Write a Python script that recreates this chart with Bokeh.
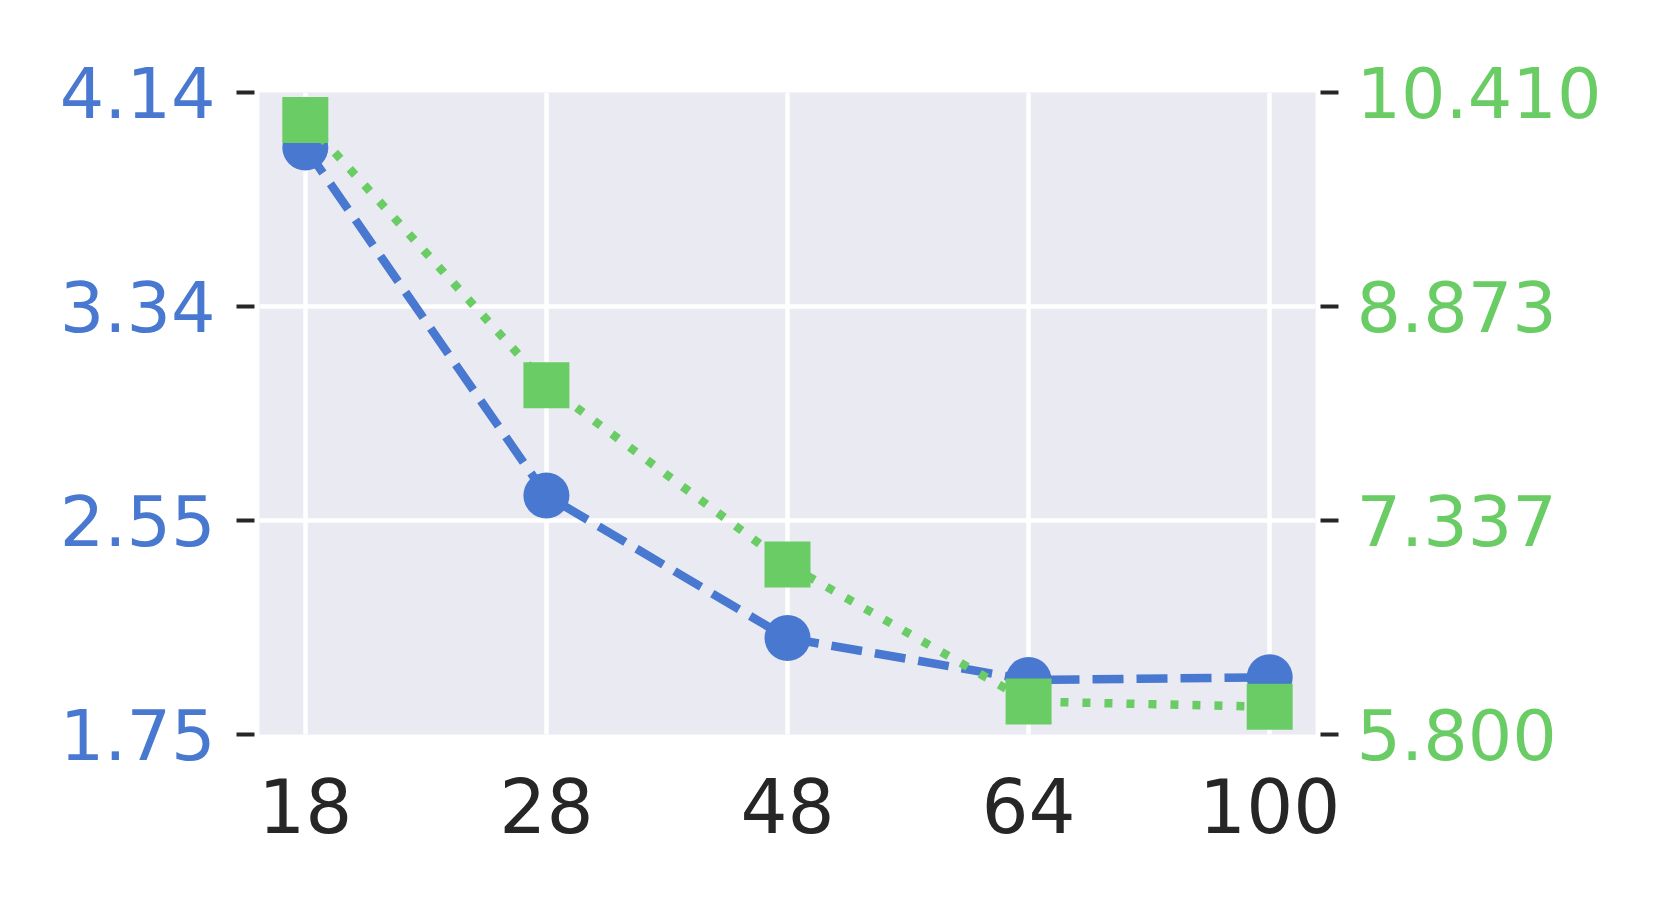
import numpy as np
from bokeh.plotting import figure
from bokeh.models import Range1d, LinearAxis, FixedTicker
from bokeh.embed import file_html
from bokeh.resources import INLINE

# ---- data ----
categories = ["18", "28", "48", "64", "100"]
blue_values = [3.935, 2.640, 2.109, 1.953, 1.963]
green_values = [10.212, 8.308, 7.020, 6.037, 5.999]
left_limits = [1.75, 4.14]
right_limits = [5.800, 10.410]
left_tick_labels = ["1.75", "2.55", "3.34", "4.14"]
right_tick_labels = ["5.800", "7.337", "8.873", "10.410"]

BLUE = "#4878D0"
GREEN = "#6ACC64"
DARK = "#262626"
FONT = "DejaVu Sans"

x_idx = list(range(len(categories)))
left_ticks = [float(v) for v in np.linspace(left_limits[0], left_limits[1], len(left_tick_labels))]
right_ticks = [float(v) for v in np.linspace(right_limits[0], right_limits[1], len(right_tick_labels))]

p = figure(
    frame_width=1056, frame_height=642,
    min_border_left=259, min_border_top=92, min_border_right=330, min_border_bottom=163,
    x_range=Range1d(-0.19, 4.19),
    y_range=Range1d(left_limits[0], left_limits[1]),
    output_backend="svg", toolbar_location=None,
)
p.extra_y_ranges = {"r": Range1d(right_limits[0], right_limits[1])}

p.background_fill_color = "#EAEAF2"
p.border_fill_color = "white"
p.outline_line_color = None

# grid
p.xgrid.ticker = FixedTicker(ticks=x_idx)
p.ygrid.ticker = FixedTicker(ticks=left_ticks)
for g in (p.xgrid, p.ygrid):
    g.grid_line_color = "white"
    g.grid_line_width = 4.5

# x axis
xa = p.xaxis[0]
xa.ticker = FixedTicker(ticks=x_idx)
xa.major_label_overrides = {i: c for i, c in zip(x_idx, categories)}
xa.axis_line_color = None
xa.major_tick_in = 0
xa.major_tick_out = 0
xa.minor_tick_in = 0
xa.minor_tick_out = 0
xa.major_label_text_font = FONT
xa.major_label_text_font_size = "74px"
xa.major_label_text_color = DARK
xa.major_label_standoff = 43

# left axis
ya = p.yaxis[0]
ya.ticker = FixedTicker(ticks=left_ticks)
ya.major_label_overrides = {t: l for t, l in zip(left_ticks, left_tick_labels)}

# right axis
ra = LinearAxis(y_range_name="r", ticker=FixedTicker(ticks=right_ticks))
ra.major_label_overrides = {t: l for t, l in zip(right_ticks, right_tick_labels)}
p.add_layout(ra, "right")

for ax, col in ((ya, BLUE), (ra, GREEN)):
    ax.axis_line_color = None
    ax.major_tick_line_color = DARK
    ax.major_tick_line_width = 4
    ax.major_tick_in = -5
    ax.major_tick_out = 23
    ax.minor_tick_in = 0
    ax.minor_tick_out = 0
    ax.major_label_text_font = FONT
    ax.major_label_text_font_size = "70px"
    ax.major_label_text_color = col
ya.major_label_standoff = 21
ra.major_label_standoff = 18

# blue series (left axis)
p.line(x_idx, blue_values, line_color=BLUE, line_width=8.5, line_dash="31 13")
p.scatter(x_idx, blue_values, marker="circle", size=46, fill_color=BLUE, line_color=None)

# green series (right axis)
p.line(x_idx, green_values, line_color=GREEN, line_width=8.5, line_dash="8 14", y_range_name="r")
p.scatter(x_idx, green_values, marker="square", size=46, fill_color=GREEN, line_color=None, y_range_name="r")

open("out.html", "w").write(file_html(p, INLINE))
